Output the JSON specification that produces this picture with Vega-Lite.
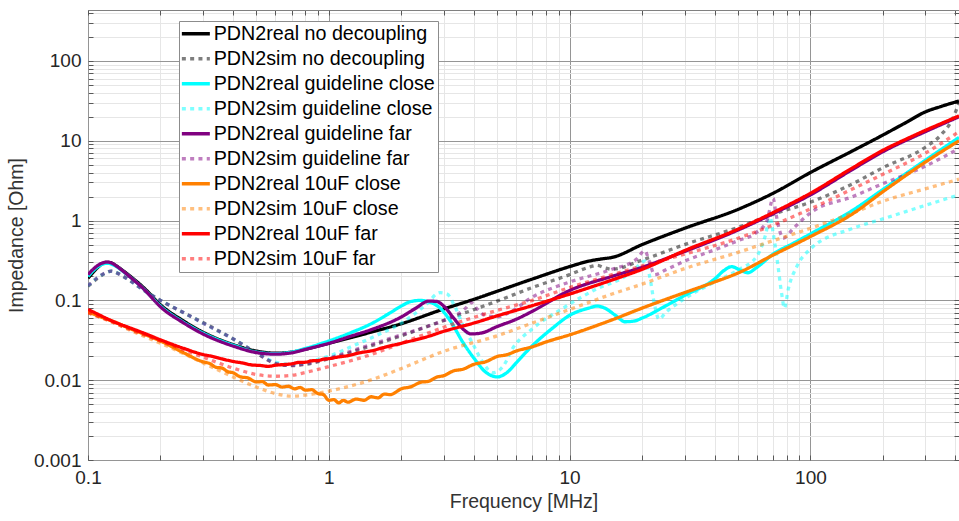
{
"$schema": "https://vega.github.io/schema/vega-lite/v6.json",
"width": 871, "height": 450,
"autosize": {"type": "none"},
"padding": {"left": 88, "top": 10, "right": 0, "bottom": 61},
"background": "white",
"config": {"view": {"stroke": "#808080", "strokeWidth": 1}, "font": "Liberation Sans"},
"data": {"values": [
{"s":"PDN2real no decoupling","f":0.1,"z":0.19},{"s":"PDN2real no decoupling","f":0.105,"z":0.225},{"s":"PDN2real no decoupling","f":0.11,"z":0.26},{"s":"PDN2real no decoupling","f":0.115,"z":0.29},{"s":"PDN2real no decoupling","f":0.12,"z":0.3},{"s":"PDN2real no decoupling","f":0.125,"z":0.295},{"s":"PDN2real no decoupling","f":0.13,"z":0.275},{"s":"PDN2real no decoupling","f":0.14,"z":0.235},{"s":"PDN2real no decoupling","f":0.15,"z":0.2},{"s":"PDN2real no decoupling","f":0.17,"z":0.145},{"s":"PDN2real no decoupling","f":0.2,"z":0.088},{"s":"PDN2real no decoupling","f":0.25,"z":0.055},{"s":"PDN2real no decoupling","f":0.3,"z":0.04},{"s":"PDN2real no decoupling","f":0.4,"z":0.028},{"s":"PDN2real no decoupling","f":0.5,"z":0.0232},{"s":"PDN2real no decoupling","f":0.6,"z":0.0218},{"s":"PDN2real no decoupling","f":0.7,"z":0.0225},{"s":"PDN2real no decoupling","f":0.8,"z":0.0245},{"s":"PDN2real no decoupling","f":1,"z":0.029},{"s":"PDN2real no decoupling","f":1.5,"z":0.04},{"s":"PDN2real no decoupling","f":2,"z":0.051},{"s":"PDN2real no decoupling","f":3,"z":0.078},{"s":"PDN2real no decoupling","f":4,"z":0.103},{"s":"PDN2real no decoupling","f":5,"z":0.13},{"s":"PDN2real no decoupling","f":7,"z":0.185},{"s":"PDN2real no decoupling","f":10,"z":0.265},{"s":"PDN2real no decoupling","f":12,"z":0.31},{"s":"PDN2real no decoupling","f":13.5,"z":0.33},{"s":"PDN2real no decoupling","f":15,"z":0.345},{"s":"PDN2real no decoupling","f":20,"z":0.5},{"s":"PDN2real no decoupling","f":30,"z":0.8},{"s":"PDN2real no decoupling","f":50,"z":1.38},{"s":"PDN2real no decoupling","f":70,"z":2.2},{"s":"PDN2real no decoupling","f":100,"z":4.0},{"s":"PDN2real no decoupling","f":150,"z":7.5},{"s":"PDN2real no decoupling","f":200,"z":11.8},{"s":"PDN2real no decoupling","f":250,"z":17},{"s":"PDN2real no decoupling","f":300,"z":23},{"s":"PDN2real no decoupling","f":350,"z":27},{"s":"PDN2real no decoupling","f":414,"z":31.5},
{"s":"PDN2sim no decoupling","f":0.1,"z":0.15},{"s":"PDN2sim no decoupling","f":0.11,"z":0.19},{"s":"PDN2sim no decoupling","f":0.12,"z":0.225},{"s":"PDN2sim no decoupling","f":0.125,"z":0.233},{"s":"PDN2sim no decoupling","f":0.13,"z":0.225},{"s":"PDN2sim no decoupling","f":0.14,"z":0.2},{"s":"PDN2sim no decoupling","f":0.15,"z":0.175},{"s":"PDN2sim no decoupling","f":0.17,"z":0.135},{"s":"PDN2sim no decoupling","f":0.2,"z":0.1},{"s":"PDN2sim no decoupling","f":0.25,"z":0.07},{"s":"PDN2sim no decoupling","f":0.3,"z":0.053},{"s":"PDN2sim no decoupling","f":0.4,"z":0.033},{"s":"PDN2sim no decoupling","f":0.5,"z":0.022},{"s":"PDN2sim no decoupling","f":0.6,"z":0.0162},{"s":"PDN2sim no decoupling","f":0.7,"z":0.0152},{"s":"PDN2sim no decoupling","f":0.8,"z":0.0158},{"s":"PDN2sim no decoupling","f":1,"z":0.0185},{"s":"PDN2sim no decoupling","f":1.5,"z":0.027},{"s":"PDN2sim no decoupling","f":2,"z":0.036},{"s":"PDN2sim no decoupling","f":3,"z":0.056},{"s":"PDN2sim no decoupling","f":5,"z":0.098},{"s":"PDN2sim no decoupling","f":7,"z":0.145},{"s":"PDN2sim no decoupling","f":10,"z":0.21},{"s":"PDN2sim no decoupling","f":12,"z":0.26},{"s":"PDN2sim no decoupling","f":13,"z":0.275},{"s":"PDN2sim no decoupling","f":14,"z":0.255},{"s":"PDN2sim no decoupling","f":15,"z":0.245},{"s":"PDN2sim no decoupling","f":20,"z":0.32},{"s":"PDN2sim no decoupling","f":30,"z":0.5},{"s":"PDN2sim no decoupling","f":50,"z":0.82},{"s":"PDN2sim no decoupling","f":70,"z":1.2},{"s":"PDN2sim no decoupling","f":100,"z":1.7},{"s":"PDN2sim no decoupling","f":150,"z":2.9},{"s":"PDN2sim no decoupling","f":200,"z":4.6},{"s":"PDN2sim no decoupling","f":300,"z":8.3},{"s":"PDN2sim no decoupling","f":350,"z":12},{"s":"PDN2sim no decoupling","f":390,"z":19},{"s":"PDN2sim no decoupling","f":414,"z":30},
{"s":"PDN2real guideline close","f":0.1,"z":0.2},{"s":"PDN2real guideline close","f":0.105,"z":0.235},{"s":"PDN2real guideline close","f":0.11,"z":0.265},{"s":"PDN2real guideline close","f":0.115,"z":0.285},{"s":"PDN2real guideline close","f":0.12,"z":0.292},{"s":"PDN2real guideline close","f":0.125,"z":0.285},{"s":"PDN2real guideline close","f":0.13,"z":0.27},{"s":"PDN2real guideline close","f":0.14,"z":0.23},{"s":"PDN2real guideline close","f":0.15,"z":0.195},{"s":"PDN2real guideline close","f":0.17,"z":0.14},{"s":"PDN2real guideline close","f":0.2,"z":0.085},{"s":"PDN2real guideline close","f":0.25,"z":0.053},{"s":"PDN2real guideline close","f":0.3,"z":0.039},{"s":"PDN2real guideline close","f":0.4,"z":0.0275},{"s":"PDN2real guideline close","f":0.5,"z":0.0225},{"s":"PDN2real guideline close","f":0.6,"z":0.0215},{"s":"PDN2real guideline close","f":0.7,"z":0.0225},{"s":"PDN2real guideline close","f":0.8,"z":0.025},{"s":"PDN2real guideline close","f":1,"z":0.031},{"s":"PDN2real guideline close","f":1.25,"z":0.04},{"s":"PDN2real guideline close","f":1.5,"z":0.051},{"s":"PDN2real guideline close","f":1.8,"z":0.07},{"s":"PDN2real guideline close","f":2,"z":0.085},{"s":"PDN2real guideline close","f":2.2,"z":0.097},{"s":"PDN2real guideline close","f":2.4,"z":0.1},{"s":"PDN2real guideline close","f":2.6,"z":0.096},{"s":"PDN2real guideline close","f":2.9,"z":0.08},{"s":"PDN2real guideline close","f":3.2,"z":0.055},{"s":"PDN2real guideline close","f":3.6,"z":0.03},{"s":"PDN2real guideline close","f":4,"z":0.019},{"s":"PDN2real guideline close","f":4.5,"z":0.0125},{"s":"PDN2real guideline close","f":5,"z":0.011},{"s":"PDN2real guideline close","f":5.5,"z":0.0125},{"s":"PDN2real guideline close","f":6,"z":0.0165},{"s":"PDN2real guideline close","f":7,"z":0.027},{"s":"PDN2real guideline close","f":8.5,"z":0.045},{"s":"PDN2real guideline close","f":10,"z":0.065},{"s":"PDN2real guideline close","f":12,"z":0.08},{"s":"PDN2real guideline close","f":13,"z":0.085},{"s":"PDN2real guideline close","f":14,"z":0.08},{"s":"PDN2real guideline close","f":15.5,"z":0.065},{"s":"PDN2real guideline close","f":17,"z":0.054},{"s":"PDN2real guideline close","f":18.5,"z":0.055},{"s":"PDN2real guideline close","f":20,"z":0.06},{"s":"PDN2real guideline close","f":25,"z":0.085},{"s":"PDN2real guideline close","f":30,"z":0.115},{"s":"PDN2real guideline close","f":40,"z":0.185},{"s":"PDN2real guideline close","f":44,"z":0.24},{"s":"PDN2real guideline close","f":47,"z":0.265},{"s":"PDN2real guideline close","f":51,"z":0.24},{"s":"PDN2real guideline close","f":55,"z":0.222},{"s":"PDN2real guideline close","f":60,"z":0.26},{"s":"PDN2real guideline close","f":70,"z":0.38},{"s":"PDN2real guideline close","f":85,"z":0.52},{"s":"PDN2real guideline close","f":100,"z":0.68},{"s":"PDN2real guideline close","f":150,"z":1.35},{"s":"PDN2real guideline close","f":200,"z":2.45},{"s":"PDN2real guideline close","f":300,"z":5.7},{"s":"PDN2real guideline close","f":414,"z":11},
{"s":"PDN2sim guideline close","f":0.1,"z":0.152},{"s":"PDN2sim guideline close","f":0.11,"z":0.195},{"s":"PDN2sim guideline close","f":0.12,"z":0.225},{"s":"PDN2sim guideline close","f":0.125,"z":0.232},{"s":"PDN2sim guideline close","f":0.13,"z":0.225},{"s":"PDN2sim guideline close","f":0.14,"z":0.2},{"s":"PDN2sim guideline close","f":0.15,"z":0.175},{"s":"PDN2sim guideline close","f":0.17,"z":0.135},{"s":"PDN2sim guideline close","f":0.2,"z":0.1},{"s":"PDN2sim guideline close","f":0.25,"z":0.07},{"s":"PDN2sim guideline close","f":0.3,"z":0.052},{"s":"PDN2sim guideline close","f":0.4,"z":0.033},{"s":"PDN2sim guideline close","f":0.5,"z":0.0222},{"s":"PDN2sim guideline close","f":0.6,"z":0.0168},{"s":"PDN2sim guideline close","f":0.7,"z":0.0158},{"s":"PDN2sim guideline close","f":0.8,"z":0.0168},{"s":"PDN2sim guideline close","f":1,"z":0.02},{"s":"PDN2sim guideline close","f":1.3,"z":0.028},{"s":"PDN2sim guideline close","f":1.6,"z":0.037},{"s":"PDN2sim guideline close","f":2,"z":0.052},{"s":"PDN2sim guideline close","f":2.5,"z":0.085},{"s":"PDN2sim guideline close","f":2.9,"z":0.125},{"s":"PDN2sim guideline close","f":3.1,"z":0.12},{"s":"PDN2sim guideline close","f":3.3,"z":0.09},{"s":"PDN2sim guideline close","f":3.6,"z":0.05},{"s":"PDN2sim guideline close","f":4,"z":0.027},{"s":"PDN2sim guideline close","f":4.4,"z":0.016},{"s":"PDN2sim guideline close","f":4.8,"z":0.0124},{"s":"PDN2sim guideline close","f":5.3,"z":0.015},{"s":"PDN2sim guideline close","f":5.8,"z":0.025},{"s":"PDN2sim guideline close","f":7,"z":0.044},{"s":"PDN2sim guideline close","f":9.4,"z":0.08},{"s":"PDN2sim guideline close","f":13,"z":0.14},{"s":"PDN2sim guideline close","f":17,"z":0.2},{"s":"PDN2sim guideline close","f":19,"z":0.26},{"s":"PDN2sim guideline close","f":20.5,"z":0.31},{"s":"PDN2sim guideline close","f":21.5,"z":0.2},{"s":"PDN2sim guideline close","f":22.5,"z":0.09},{"s":"PDN2sim guideline close","f":23.5,"z":0.058},{"s":"PDN2sim guideline close","f":25,"z":0.07},{"s":"PDN2sim guideline close","f":30,"z":0.105},{"s":"PDN2sim guideline close","f":40,"z":0.17},{"s":"PDN2sim guideline close","f":50,"z":0.24},{"s":"PDN2sim guideline close","f":60,"z":0.36},{"s":"PDN2sim guideline close","f":65,"z":0.65},{"s":"PDN2sim guideline close","f":68,"z":1.1},{"s":"PDN2sim guideline close","f":70,"z":0.7},{"s":"PDN2sim guideline close","f":73,"z":0.3},{"s":"PDN2sim guideline close","f":76,"z":0.12},{"s":"PDN2sim guideline close","f":78,"z":0.08},{"s":"PDN2sim guideline close","f":81,"z":0.14},{"s":"PDN2sim guideline close","f":88,"z":0.27},{"s":"PDN2sim guideline close","f":100,"z":0.44},{"s":"PDN2sim guideline close","f":150,"z":0.8},{"s":"PDN2sim guideline close","f":200,"z":1.05},{"s":"PDN2sim guideline close","f":300,"z":1.55},{"s":"PDN2sim guideline close","f":414,"z":2.1},
{"s":"PDN2real guideline far","f":0.1,"z":0.21},{"s":"PDN2real guideline far","f":0.105,"z":0.245},{"s":"PDN2real guideline far","f":0.11,"z":0.275},{"s":"PDN2real guideline far","f":0.115,"z":0.295},{"s":"PDN2real guideline far","f":0.12,"z":0.302},{"s":"PDN2real guideline far","f":0.125,"z":0.295},{"s":"PDN2real guideline far","f":0.13,"z":0.275},{"s":"PDN2real guideline far","f":0.14,"z":0.232},{"s":"PDN2real guideline far","f":0.15,"z":0.195},{"s":"PDN2real guideline far","f":0.17,"z":0.14},{"s":"PDN2real guideline far","f":0.2,"z":0.083},{"s":"PDN2real guideline far","f":0.25,"z":0.052},{"s":"PDN2real guideline far","f":0.3,"z":0.038},{"s":"PDN2real guideline far","f":0.4,"z":0.0268},{"s":"PDN2real guideline far","f":0.5,"z":0.0222},{"s":"PDN2real guideline far","f":0.6,"z":0.0212},{"s":"PDN2real guideline far","f":0.7,"z":0.022},{"s":"PDN2real guideline far","f":0.8,"z":0.0243},{"s":"PDN2real guideline far","f":1,"z":0.029},{"s":"PDN2real guideline far","f":1.25,"z":0.036},{"s":"PDN2real guideline far","f":1.5,"z":0.043},{"s":"PDN2real guideline far","f":2,"z":0.062},{"s":"PDN2real guideline far","f":2.3,"z":0.08},{"s":"PDN2real guideline far","f":2.6,"z":0.098},{"s":"PDN2real guideline far","f":2.8,"z":0.097},{"s":"PDN2real guideline far","f":3,"z":0.085},{"s":"PDN2real guideline far","f":3.3,"z":0.06},{"s":"PDN2real guideline far","f":3.6,"z":0.044},{"s":"PDN2real guideline far","f":3.9,"z":0.038},{"s":"PDN2real guideline far","f":4.3,"z":0.039},{"s":"PDN2real guideline far","f":5,"z":0.047},{"s":"PDN2real guideline far","f":6,"z":0.058},{"s":"PDN2real guideline far","f":7,"z":0.073},{"s":"PDN2real guideline far","f":10,"z":0.133},{"s":"PDN2real guideline far","f":15,"z":0.2},{"s":"PDN2real guideline far","f":20,"z":0.26},{"s":"PDN2real guideline far","f":30,"z":0.41},{"s":"PDN2real guideline far","f":50,"z":0.76},{"s":"PDN2real guideline far","f":70,"z":1.22},{"s":"PDN2real guideline far","f":100,"z":2.1},{"s":"PDN2real guideline far","f":150,"z":4.4},{"s":"PDN2real guideline far","f":200,"z":7.3},{"s":"PDN2real guideline far","f":300,"z":13},{"s":"PDN2real guideline far","f":350,"z":16},{"s":"PDN2real guideline far","f":414,"z":20},
{"s":"PDN2sim guideline far","f":0.1,"z":0.153},{"s":"PDN2sim guideline far","f":0.11,"z":0.195},{"s":"PDN2sim guideline far","f":0.12,"z":0.226},{"s":"PDN2sim guideline far","f":0.125,"z":0.232},{"s":"PDN2sim guideline far","f":0.13,"z":0.225},{"s":"PDN2sim guideline far","f":0.14,"z":0.2},{"s":"PDN2sim guideline far","f":0.15,"z":0.176},{"s":"PDN2sim guideline far","f":0.17,"z":0.135},{"s":"PDN2sim guideline far","f":0.2,"z":0.1},{"s":"PDN2sim guideline far","f":0.25,"z":0.07},{"s":"PDN2sim guideline far","f":0.3,"z":0.052},{"s":"PDN2sim guideline far","f":0.4,"z":0.033},{"s":"PDN2sim guideline far","f":0.5,"z":0.022},{"s":"PDN2sim guideline far","f":0.6,"z":0.0163},{"s":"PDN2sim guideline far","f":0.7,"z":0.0153},{"s":"PDN2sim guideline far","f":0.8,"z":0.016},{"s":"PDN2sim guideline far","f":1,"z":0.019},{"s":"PDN2sim guideline far","f":1.5,"z":0.028},{"s":"PDN2sim guideline far","f":2,"z":0.037},{"s":"PDN2sim guideline far","f":2.5,"z":0.046},{"s":"PDN2sim guideline far","f":3,"z":0.056},{"s":"PDN2sim guideline far","f":3.4,"z":0.066},{"s":"PDN2sim guideline far","f":3.7,"z":0.08},{"s":"PDN2sim guideline far","f":3.9,"z":0.094},{"s":"PDN2sim guideline far","f":4.1,"z":0.08},{"s":"PDN2sim guideline far","f":4.4,"z":0.066},{"s":"PDN2sim guideline far","f":5,"z":0.062},{"s":"PDN2sim guideline far","f":5.6,"z":0.07},{"s":"PDN2sim guideline far","f":7,"z":0.11},{"s":"PDN2sim guideline far","f":10,"z":0.17},{"s":"PDN2sim guideline far","f":15,"z":0.245},{"s":"PDN2sim guideline far","f":19,"z":0.33},{"s":"PDN2sim guideline far","f":20.5,"z":0.42},{"s":"PDN2sim guideline far","f":21.5,"z":0.3},{"s":"PDN2sim guideline far","f":22.5,"z":0.21},{"s":"PDN2sim guideline far","f":25,"z":0.24},{"s":"PDN2sim guideline far","f":30,"z":0.31},{"s":"PDN2sim guideline far","f":40,"z":0.43},{"s":"PDN2sim guideline far","f":50,"z":0.56},{"s":"PDN2sim guideline far","f":60,"z":0.72},{"s":"PDN2sim guideline far","f":66,"z":1.0},{"s":"PDN2sim guideline far","f":70,"z":1.9},{"s":"PDN2sim guideline far","f":72,"z":1.2},{"s":"PDN2sim guideline far","f":75,"z":0.7},{"s":"PDN2sim guideline far","f":77,"z":0.6},{"s":"PDN2sim guideline far","f":85,"z":0.8},{"s":"PDN2sim guideline far","f":100,"z":1.25},{"s":"PDN2sim guideline far","f":150,"z":2.0},{"s":"PDN2sim guideline far","f":200,"z":2.9},{"s":"PDN2sim guideline far","f":300,"z":4.8},{"s":"PDN2sim guideline far","f":414,"z":8},
{"s":"PDN2real 10uF close","f":0.1,"z":0.072},{"s":"PDN2real 10uF close","f":0.11,"z":0.064},{"s":"PDN2real 10uF close","f":0.12,"z":0.058},{"s":"PDN2real 10uF close","f":0.13,"z":0.053},{"s":"PDN2real 10uF close","f":0.15,"z":0.044},{"s":"PDN2real 10uF close","f":0.17,"z":0.038},{"s":"PDN2real 10uF close","f":0.2,"z":0.031},{"s":"PDN2real 10uF close","f":0.25,"z":0.022},{"s":"PDN2real 10uF close","f":0.3,"z":0.017},{"s":"PDN2real 10uF close","f":0.32,"z":0.0162},{"s":"PDN2real 10uF close","f":0.34,"z":0.0145},{"s":"PDN2real 10uF close","f":0.36,"z":0.0142},{"s":"PDN2real 10uF close","f":0.38,"z":0.0128},{"s":"PDN2real 10uF close","f":0.4,"z":0.0124},{"s":"PDN2real 10uF close","f":0.43,"z":0.011},{"s":"PDN2real 10uF close","f":0.46,"z":0.0107},{"s":"PDN2real 10uF close","f":0.5,"z":0.0095},{"s":"PDN2real 10uF close","f":0.53,"z":0.0096},{"s":"PDN2real 10uF close","f":0.56,"z":0.0087},{"s":"PDN2real 10uF close","f":0.6,"z":0.0088},{"s":"PDN2real 10uF close","f":0.64,"z":0.0082},{"s":"PDN2real 10uF close","f":0.68,"z":0.0084},{"s":"PDN2real 10uF close","f":0.72,"z":0.0078},{"s":"PDN2real 10uF close","f":0.76,"z":0.0081},{"s":"PDN2real 10uF close","f":0.8,"z":0.0075},{"s":"PDN2real 10uF close","f":0.85,"z":0.0076},{"s":"PDN2real 10uF close","f":0.9,"z":0.0068},{"s":"PDN2real 10uF close","f":0.95,"z":0.0066},{"s":"PDN2real 10uF close","f":1,"z":0.0056},{"s":"PDN2real 10uF close","f":1.05,"z":0.0057},{"s":"PDN2real 10uF close","f":1.1,"z":0.0052},{"s":"PDN2real 10uF close","f":1.15,"z":0.0056},{"s":"PDN2real 10uF close","f":1.2,"z":0.0053},{"s":"PDN2real 10uF close","f":1.3,"z":0.0058},{"s":"PDN2real 10uF close","f":1.4,"z":0.0056},{"s":"PDN2real 10uF close","f":1.5,"z":0.0062},{"s":"PDN2real 10uF close","f":1.6,"z":0.006},{"s":"PDN2real 10uF close","f":1.7,"z":0.0067},{"s":"PDN2real 10uF close","f":1.8,"z":0.0066},{"s":"PDN2real 10uF close","f":2,"z":0.0078},{"s":"PDN2real 10uF close","f":2.2,"z":0.0083},{"s":"PDN2real 10uF close","f":2.4,"z":0.0094},{"s":"PDN2real 10uF close","f":2.6,"z":0.0097},{"s":"PDN2real 10uF close","f":2.8,"z":0.0109},{"s":"PDN2real 10uF close","f":3,"z":0.0114},{"s":"PDN2real 10uF close","f":3.3,"z":0.0131},{"s":"PDN2real 10uF close","f":3.6,"z":0.0137},{"s":"PDN2real 10uF close","f":4,"z":0.0158},{"s":"PDN2real 10uF close","f":4.5,"z":0.0171},{"s":"PDN2real 10uF close","f":5,"z":0.0198},{"s":"PDN2real 10uF close","f":5.5,"z":0.0209},{"s":"PDN2real 10uF close","f":6,"z":0.0232},{"s":"PDN2real 10uF close","f":7,"z":0.0262},{"s":"PDN2real 10uF close","f":8,"z":0.0302},{"s":"PDN2real 10uF close","f":10,"z":0.037},{"s":"PDN2real 10uF close","f":15,"z":0.057},{"s":"PDN2real 10uF close","f":20,"z":0.08},{"s":"PDN2real 10uF close","f":30,"z":0.125},{"s":"PDN2real 10uF close","f":40,"z":0.17},{"s":"PDN2real 10uF close","f":50,"z":0.22},{"s":"PDN2real 10uF close","f":70,"z":0.37},{"s":"PDN2real 10uF close","f":100,"z":0.63},{"s":"PDN2real 10uF close","f":150,"z":1.22},{"s":"PDN2real 10uF close","f":200,"z":2.3},{"s":"PDN2real 10uF close","f":300,"z":5.4},{"s":"PDN2real 10uF close","f":414,"z":10},
{"s":"PDN2sim 10uF close","f":0.1,"z":0.07},{"s":"PDN2sim 10uF close","f":0.12,"z":0.057},{"s":"PDN2sim 10uF close","f":0.15,"z":0.042},{"s":"PDN2sim 10uF close","f":0.2,"z":0.029},{"s":"PDN2sim 10uF close","f":0.25,"z":0.0215},{"s":"PDN2sim 10uF close","f":0.3,"z":0.0165},{"s":"PDN2sim 10uF close","f":0.4,"z":0.011},{"s":"PDN2sim 10uF close","f":0.5,"z":0.0082},{"s":"PDN2sim 10uF close","f":0.6,"z":0.0068},{"s":"PDN2sim 10uF close","f":0.7,"z":0.0063},{"s":"PDN2sim 10uF close","f":0.8,"z":0.0065},{"s":"PDN2sim 10uF close","f":1,"z":0.0073},{"s":"PDN2sim 10uF close","f":1.5,"z":0.0101},{"s":"PDN2sim 10uF close","f":2,"z":0.014},{"s":"PDN2sim 10uF close","f":3,"z":0.023},{"s":"PDN2sim 10uF close","f":5,"z":0.036},{"s":"PDN2sim 10uF close","f":7,"z":0.052},{"s":"PDN2sim 10uF close","f":10,"z":0.077},{"s":"PDN2sim 10uF close","f":15,"z":0.12},{"s":"PDN2sim 10uF close","f":20,"z":0.16},{"s":"PDN2sim 10uF close","f":30,"z":0.25},{"s":"PDN2sim 10uF close","f":50,"z":0.4},{"s":"PDN2sim 10uF close","f":70,"z":0.56},{"s":"PDN2sim 10uF close","f":100,"z":0.8},{"s":"PDN2sim 10uF close","f":150,"z":1.25},{"s":"PDN2sim 10uF close","f":200,"z":1.75},{"s":"PDN2sim 10uF close","f":300,"z":2.5},{"s":"PDN2sim 10uF close","f":414,"z":3.3},
{"s":"PDN2real 10uF far","f":0.1,"z":0.077},{"s":"PDN2real 10uF far","f":0.11,"z":0.067},{"s":"PDN2real 10uF far","f":0.12,"z":0.059},{"s":"PDN2real 10uF far","f":0.13,"z":0.053},{"s":"PDN2real 10uF far","f":0.15,"z":0.045},{"s":"PDN2real 10uF far","f":0.17,"z":0.039},{"s":"PDN2real 10uF far","f":0.2,"z":0.032},{"s":"PDN2real 10uF far","f":0.25,"z":0.025},{"s":"PDN2real 10uF far","f":0.3,"z":0.021},{"s":"PDN2real 10uF far","f":0.33,"z":0.0198},{"s":"PDN2real 10uF far","f":0.36,"z":0.0185},{"s":"PDN2real 10uF far","f":0.4,"z":0.0172},{"s":"PDN2real 10uF far","f":0.44,"z":0.0164},{"s":"PDN2real 10uF far","f":0.48,"z":0.0155},{"s":"PDN2real 10uF far","f":0.52,"z":0.0153},{"s":"PDN2real 10uF far","f":0.56,"z":0.0149},{"s":"PDN2real 10uF far","f":0.6,"z":0.0154},{"s":"PDN2real 10uF far","f":0.65,"z":0.0157},{"s":"PDN2real 10uF far","f":0.7,"z":0.016},{"s":"PDN2real 10uF far","f":0.75,"z":0.0167},{"s":"PDN2real 10uF far","f":0.8,"z":0.0168},{"s":"PDN2real 10uF far","f":0.85,"z":0.0175},{"s":"PDN2real 10uF far","f":0.9,"z":0.0176},{"s":"PDN2real 10uF far","f":0.95,"z":0.0183},{"s":"PDN2real 10uF far","f":1,"z":0.0186},{"s":"PDN2real 10uF far","f":1.1,"z":0.0196},{"s":"PDN2real 10uF far","f":1.2,"z":0.0203},{"s":"PDN2real 10uF far","f":1.35,"z":0.0221},{"s":"PDN2real 10uF far","f":1.5,"z":0.0233},{"s":"PDN2real 10uF far","f":1.7,"z":0.0258},{"s":"PDN2real 10uF far","f":2,"z":0.029},{"s":"PDN2real 10uF far","f":2.3,"z":0.0322},{"s":"PDN2real 10uF far","f":2.6,"z":0.0355},{"s":"PDN2real 10uF far","f":3,"z":0.041},{"s":"PDN2real 10uF far","f":3.5,"z":0.0465},{"s":"PDN2real 10uF far","f":4,"z":0.052},{"s":"PDN2real 10uF far","f":5,"z":0.064},{"s":"PDN2real 10uF far","f":7,"z":0.086},{"s":"PDN2real 10uF far","f":10,"z":0.12},{"s":"PDN2real 10uF far","f":15,"z":0.18},{"s":"PDN2real 10uF far","f":20,"z":0.245},{"s":"PDN2real 10uF far","f":30,"z":0.42},{"s":"PDN2real 10uF far","f":50,"z":0.78},{"s":"PDN2real 10uF far","f":70,"z":1.26},{"s":"PDN2real 10uF far","f":100,"z":2.2},{"s":"PDN2real 10uF far","f":150,"z":4.6},{"s":"PDN2real 10uF far","f":200,"z":7.6},{"s":"PDN2real 10uF far","f":250,"z":10.5},{"s":"PDN2real 10uF far","f":300,"z":13.5},{"s":"PDN2real 10uF far","f":350,"z":16.5},{"s":"PDN2real 10uF far","f":414,"z":20.5},
{"s":"PDN2sim 10uF far","f":0.1,"z":0.07},{"s":"PDN2sim 10uF far","f":0.12,"z":0.057},{"s":"PDN2sim 10uF far","f":0.15,"z":0.043},{"s":"PDN2sim 10uF far","f":0.2,"z":0.031},{"s":"PDN2sim 10uF far","f":0.25,"z":0.024},{"s":"PDN2sim 10uF far","f":0.3,"z":0.0195},{"s":"PDN2sim 10uF far","f":0.4,"z":0.0142},{"s":"PDN2sim 10uF far","f":0.5,"z":0.0118},{"s":"PDN2sim 10uF far","f":0.6,"z":0.0112},{"s":"PDN2sim 10uF far","f":0.7,"z":0.0115},{"s":"PDN2sim 10uF far","f":0.8,"z":0.0125},{"s":"PDN2sim 10uF far","f":1,"z":0.0148},{"s":"PDN2sim 10uF far","f":1.5,"z":0.021},{"s":"PDN2sim 10uF far","f":2,"z":0.029},{"s":"PDN2sim 10uF far","f":3,"z":0.046},{"s":"PDN2sim 10uF far","f":5,"z":0.075},{"s":"PDN2sim 10uF far","f":7,"z":0.1},{"s":"PDN2sim 10uF far","f":10,"z":0.145},{"s":"PDN2sim 10uF far","f":15,"z":0.21},{"s":"PDN2sim 10uF far","f":20,"z":0.27},{"s":"PDN2sim 10uF far","f":30,"z":0.38},{"s":"PDN2sim 10uF far","f":50,"z":0.6},{"s":"PDN2sim 10uF far","f":70,"z":0.88},{"s":"PDN2sim 10uF far","f":100,"z":1.4},{"s":"PDN2sim 10uF far","f":150,"z":2.5},{"s":"PDN2sim 10uF far","f":200,"z":3.8},{"s":"PDN2sim 10uF far","f":300,"z":7},{"s":"PDN2sim 10uF far","f":414,"z":13}
]},
"resolve": {"axis": {"x": "independent", "y": "independent"}},
"layer": [
{
"mark": {"type": "line", "strokeWidth": 3.3, "strokeCap": "butt", "clip": true, "interpolate": "monotone"},
"encoding": {
"x": {"field": "f", "type": "quantitative", "title": "Frequency [MHz]",
 "scale": {"type": "log", "domain": [0.1, 414], "nice": false},
 "axis": {"values": [0.1,0.2,0.3,0.4,0.5,0.6,0.7,0.8,0.9,1,2,3,4,5,6,7,8,9,10,20,30,40,50,60,70,80,90,100,200,300,400],
  "format": "~g",
  "labelExpr": "datum.value==0.1||datum.value==1||datum.value==10||datum.value==100 ? datum.label : ''",
  "domain": false, "ticks": true, "tickSize": -5, "tickColor": "#595959", "labelFontSize": 19, "labelColor": "#262626", "labelPadding": 13,
  "labelFlush": false, "labelOverlap": false,
  "titleFontSize": 19.5, "titleFontWeight": "normal", "titleColor": "#333333", "titlePadding": 5,
  "gridColor": {"condition": {"test": "datum.value==0.1||datum.value==1||datum.value==10||datum.value==100", "value": "#959595"}, "value": "#e6e6e6"},
  "gridWidth": 1, "gridOpacity": 1}},
"y": {"field": "z", "type": "quantitative", "title": "Impedance [Ohm]",
 "scale": {"type": "log", "domain": [0.001, 435], "nice": false},
 "axis": {"values": [0.001,0.002,0.003,0.004,0.005,0.006,0.007,0.008,0.009,0.01,0.02,0.03,0.04,0.05,0.06,0.07,0.08,0.09,0.1,0.2,0.3,0.4,0.5,0.6,0.7,0.8,0.9,1,2,3,4,5,6,7,8,9,10,20,30,40,50,60,70,80,90,100,200,300,400],
  "format": "~g",
  "labelExpr": "datum.value==0.001||datum.value==0.01||datum.value==0.1||datum.value==1||datum.value==10||datum.value==100 ? datum.label : ''",
  "domain": false, "ticks": true, "tickSize": -5, "tickColor": "#595959", "labelFontSize": 19, "labelColor": "#262626", "labelPadding": 12,
  "labelFlush": false, "labelOverlap": false,
  "titleFontSize": 19.5, "titleFontWeight": "normal", "titleColor": "#333333", "titlePadding": 7,
  "gridColor": {"condition": {"test": "datum.value==0.001||datum.value==0.01||datum.value==0.1||datum.value==1||datum.value==10||datum.value==100", "value": "#959595"}, "value": "#e6e6e6"},
  "gridWidth": 1, "gridOpacity": 1}},
"color": {"field": "s", "type": "nominal",
 "scale": {"domain": ["PDN2real no decoupling","PDN2sim no decoupling","PDN2real guideline close","PDN2sim guideline close","PDN2real guideline far","PDN2sim guideline far","PDN2real 10uF close","PDN2sim 10uF close","PDN2real 10uF far","PDN2sim 10uF far"],
  "range": ["#000000","#000000","#00ffff","#00ffff","#800080","#800080","#ff8000","#ff8000","#ff0000","#ff0000"]},
 "legend": {"orient": "none", "legendX": 91, "legendY": 11, "title": null,
  "labelFontSize": 19.7, "labelColor": "#000000", "labelLimit": 400, "labelOffset": 8,
  "symbolType": "M-2,0H2", "symbolSize": 196, "symbolStrokeWidth": 3.5, "symbolOffset": 4,
  "padding": 3, "rowPadding": 4, "strokeColor": "#8c8c8c", "fillColor": "#ffffff"}},
"strokeDash": {"field": "s", "type": "nominal",
 "scale": {"domain": ["PDN2real no decoupling","PDN2sim no decoupling","PDN2real guideline close","PDN2sim guideline close","PDN2real guideline far","PDN2sim guideline far","PDN2real 10uF close","PDN2sim 10uF close","PDN2real 10uF far","PDN2sim 10uF far"],
  "range": [[1,0],[4,4.3],[1,0],[4,4.3],[1,0],[4,4.3],[1,0],[4,4.3],[1,0],[4,4.3]]}},
"opacity": {"field": "s", "type": "nominal",
 "scale": {"type": "ordinal", "domain": ["PDN2real no decoupling","PDN2sim no decoupling","PDN2real guideline close","PDN2sim guideline close","PDN2real guideline far","PDN2sim guideline far","PDN2real 10uF close","PDN2sim 10uF close","PDN2real 10uF far","PDN2sim 10uF far"],
  "range": [1,0.5,1,0.5,1,0.5,1,0.5,1,0.5]}}
}
},
{
"mark": {"type": "point", "opacity": 0},
"encoding": {
"x": {"field": "f", "type": "quantitative",
 "axis": {"orient": "top", "values": [0.1,0.2,0.3,0.4,0.5,0.6,0.7,0.8,0.9,1,2,3,4,5,6,7,8,9,10,20,30,40,50,60,70,80,90,100,200,300,400],
  "labels": false, "title": null, "grid": false, "domain": false, "ticks": true, "tickSize": -5, "tickColor": "#595959"}},
"y": {"field": "z", "type": "quantitative",
 "axis": {"orient": "right", "values": [0.001,0.002,0.003,0.004,0.005,0.006,0.007,0.008,0.009,0.01,0.02,0.03,0.04,0.05,0.06,0.07,0.08,0.09,0.1,0.2,0.3,0.4,0.5,0.6,0.7,0.8,0.9,1,2,3,4,5,6,7,8,9,10,20,30,40,50,60,70,80,90,100,200,300,400],
  "labels": false, "title": null, "grid": false, "domain": false, "ticks": true, "tickSize": -5, "tickColor": "#595959"}}
}
}
]
}
